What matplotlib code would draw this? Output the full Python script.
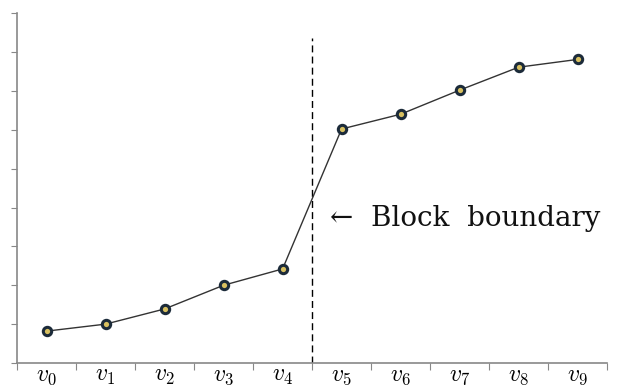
import matplotlib
matplotlib.use("Agg")
import matplotlib.pyplot as plt
import numpy as np

plt.rcParams["mathtext.fontset"] = "cm"

# values
labels = [r"$v_{%d}$" % i for i in range(10)]
values = [0.82, 1.0, 1.39, 2.0, 2.42, 6.02, 6.4, 7.02, 7.61, 7.81]
boundary_after = 4  # block boundary sits between v4 and v5

fig = plt.figure(figsize=(6.18, 3.87), dpi=100)
ax = fig.add_axes([0.0275, 0.062, 0.955, 0.904])

x = np.arange(len(values))
ax.plot(x, values, color="#333333", lw=1.0, marker="o", ms=6,
        mfc="#d8c060", mec="#1c2b3a", mew=2.2, zorder=3)

bx = boundary_after + 0.5
ax.plot([bx, bx], [0, 8.36], color="black", lw=1.0, ls=(0, (5, 3)))
ax.text(bx + 0.3, 3.73, "\u2190  Block  boundary", family="DejaVu Serif",
        fontsize=20, va="center", ha="left", color="#111111")

ax.set_xlim(-0.5, len(values) - 0.5)
ax.set_ylim(0, 9)
ax.set_xticks(np.arange(-0.5, len(values)), labels=[])
ax.set_xticks(x, labels=labels, minor=True)
ax.set_yticks(np.arange(0, 10), labels=[])
ax.tick_params(axis="x", which="major", length=5, color="#888888", direction="out")
ax.tick_params(axis="x", which="minor", length=0, labelsize=17, pad=0)
ax.tick_params(axis="y", length=4, color="#888888", direction="out")
for s in ("top", "right"):
    ax.spines[s].set_visible(False)
for s in ("left", "bottom"):
    ax.spines[s].set_color("#888888")
    ax.spines[s].set_linewidth(1.2)

fig.savefig("out.png", dpi=100)
